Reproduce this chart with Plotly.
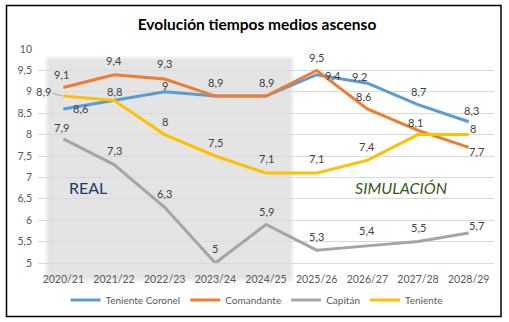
import plotly.graph_objects as go

# ---- data ----
categories = ["2020/21", "2021/22", "2022/23", "2023/24", "2024/25",
              "2025/26", "2026/27", "2027/28", "2028/29"]
teniente_coronel = [8.6, 8.8, 9.0, 8.9, 8.9, 9.4, 9.2, 8.7, 8.3]
comandante = [9.1, 9.4, 9.3, 8.9, 8.9, 9.5, 8.6, 8.1, 7.7]
capitan = [7.9, 7.3, 6.3, 5.0, 5.9, 5.3, 5.4, 5.5, 5.7]
teniente = [8.9, 8.8, 8.0, 7.5, 7.1, 7.1, 7.4, 8.0, 8.0]
series_names = ["Teniente Coronel", "Comandante", "Capitán", "Teniente"]

# ---- styling / label placement (pixel offsets: xshift, yshift) ----
colors = ["#5B9BD5", "#ED7D31", "#A5A5A5", "#FFC000"]
label_shifts = [
    [(17, 0), (0, 9), (0, 6), None, None, (16, -1), (-8, 7), (0, 13), (3, 11)],
    [(-2, 13), (0, 14), (0, 15), (0, 14), (0, 14), (0, 13), (-4, 12), (-3, 8), (8, -4)],
    [(-2, 11), (0, 14), (0, 14), (0, 15), (0, 13), (0, 14), (0, 15), (0, 14), (8, 8)],
    ["leader", None, (0, 13), (0, 14), (0, 15), (0, 15), (0, 14), None, (4, 6)],
]
FONT = "Lato, Carlito, Calibri, sans-serif"

W, H = 509, 322
ML, MR, MT, MB = 38, 15, 49, 59
PW, PH = W - ML - MR, H - MT - MB


def px2paper_x(px):
    return (px - ML) / PW


def px2paper_y(py):
    return (H - MB - py) / PH


fig = go.Figure()
all_series = [teniente_coronel, comandante, capitan, teniente]
for name, vals, col in zip(series_names, all_series, colors):
    fig.add_trace(go.Scatter(
        x=categories, y=vals, name=name, mode="lines",
        line=dict(color=col, width=3), cliponaxis=False,
    ))

def fmt(v):
    return f"{v:g}".replace(".", ",")

annotations = []
for vals, shifts in zip(all_series, label_shifts):
    for cat, v, s in zip(categories, vals, shifts):
        if s is None:
            continue
        if s == "leader":
            annotations.append(dict(
                x=cat, y=v, xref="x", yref="y", text=fmt(v), showarrow=True,
                arrowhead=0, arrowwidth=1, arrowcolor="#A6A6A6", ax=-20, ay=-5,
                standoff=1, font=dict(family=FONT, size=11, color="#404040"),
            ))
            continue
        annotations.append(dict(
            x=cat, y=v, xref="x", yref="y", text=fmt(v), showarrow=False,
            xshift=s[0], yshift=s[1],
            font=dict(family=FONT, size=11, color="#404040"),
        ))

# REAL / SIMULACIÓN text
annotations.append(dict(
    x=px2paper_x(88), y=px2paper_y(187), xref="paper", yref="paper",
    xanchor="center", yanchor="middle",
    text="REAL", showarrow=False, font=dict(family=FONT, size=16, color="#203864"),
))
annotations.append(dict(
    x=px2paper_x(401), y=px2paper_y(187), xref="paper", yref="paper",
    xanchor="center", yanchor="middle",
    text="<i>SIMULACIÓN</i>", showarrow=False,
    font=dict(family=FONT, size=16, color="#385723"),
))

shapes = []
# soft-edged gray "REAL" panel
core = (49, 60, 290, 278)
for grow, colr in [(4, "#f7f7f7"), (3, "#f1f1f1"), (2, "#ececec"), (1, "#e7e7e7"), (0, "#e4e4e4")]:
    shapes.append(dict(
        type="rect", xref="paper", yref="paper", layer="below",
        x0=px2paper_x(core[0] - grow), x1=px2paper_x(core[2] + grow),
        y0=px2paper_y(core[3] + grow), y1=px2paper_y(core[1] - grow),
        line=dict(width=0), fillcolor=colr,
    ))
# outer border
shapes.append(dict(
    type="rect", xref="paper", yref="paper", layer="above",
    x0=px2paper_x(6.5), x1=px2paper_x(501), y0=px2paper_y(316.5), y1=px2paper_y(5.5),
    line=dict(width=1.5, color="#000000"), fillcolor="rgba(0,0,0,0)",
))

fig.update_layout(
    width=W, height=H,
    margin=dict(l=ML, r=MR, t=MT, b=MB, autoexpand=False),
    paper_bgcolor="white", plot_bgcolor="rgba(0,0,0,0)",
    separators=",.",
    font=dict(family=FONT, size=11, color="#595959"),
    title=dict(text="<b>Evolución tiempos medios ascenso</b>", x=257 / W, xref="container",
               y=1 - 25 / H, yref="container", xanchor="center", yanchor="middle",
               font=dict(family=FONT, size=15.5, color="#000000")),
    xaxis=dict(type="category", range=[-0.5, 8.5], showgrid=False, showline=True,
               linecolor="#D9D9D9", linewidth=1, ticks="", tickfont=dict(size=10.5, color="#595959"),
               ticklabelstandoff=6, automargin=False),
    yaxis=dict(range=[5, 10], dtick=0.5, tick0=5, tickformat=".1~f", showgrid=True,
               gridcolor="#D9D9D9", gridwidth=1, zeroline=False, showline=False, ticks="",
               tickfont=dict(size=10.5, color="#595959"), ticklabelstandoff=5, automargin=False),
    legend=dict(orientation="h", x=px2paper_x(257), xanchor="center",
                y=px2paper_y(300), yanchor="middle", font=dict(size=10, color="#595959"),
                bgcolor="rgba(0,0,0,0)", itemwidth=30, tracegroupgap=0),
    annotations=annotations, shapes=shapes,
)

fig.write_html("out.html")
